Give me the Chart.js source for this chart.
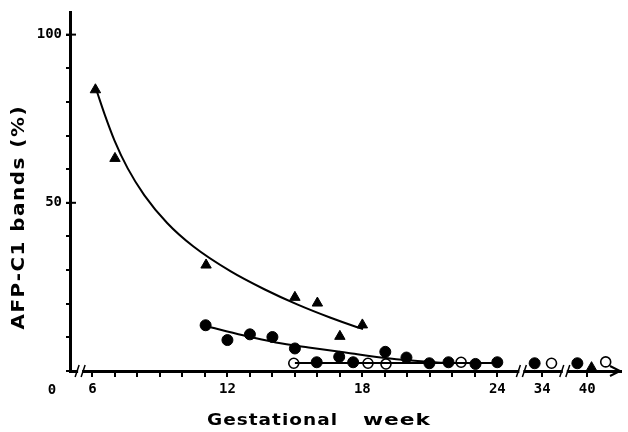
<!DOCTYPE html>
<html>
<head>
<meta charset="utf-8">
<script src="https://cdn.jsdelivr.net/npm/chart.js@4.4.0/dist/chart.umd.min.js"></script>
<style>
  body { margin: 0; background: #fff; }
  #wrap { width: 628px; height: 432px; }
</style>
</head>
<body>
<div id="wrap"><canvas id="chart" width="628" height="432"></canvas></div>
<script>
// broken x axis: weeks 5..24 sit at their own value, week 34 sits at 26 and week 40 at 28
const xTickPos = [6, 7, 8, 9, 10, 11, 12, 13, 14, 15, 16, 17, 18, 19, 20, 21, 22, 23, 24, 26, 28];
const xTickText = { 6: '6', 12: '12', 18: '18', 24: '24', 26: '34', 28: '40' };
const yTickVals = [0, 10, 20, 30, 40, 50, 60, 70, 80, 90, 100];
const yTickText = { 50: '50', 100: '100' };
const breakPos = [5.45, 25.07, 27.0];

const triWeek = [6.13, 7.0, 11.05, 15.0, 16.0, 17.0, 18.0, 28.19];
const triVal = [83.6, 63.2, 31.5, 21.9, 20.2, 10.3, 13.7, 1.0];

const filledWeek = [11.03, 12.0, 13.0, 14.0, 15.0, 15.97, 16.97, 17.59, 19.02, 19.96, 20.98, 21.83, 23.03, 24.0, 25.66, 27.56];
const filledVal = [13.6, 9.2, 10.9, 10.1, 6.7, 2.6, 4.2, 2.6, 5.7, 4.0, 2.3, 2.6, 2.1, 2.6, 2.3, 2.3];

const openWeek = [14.95, 18.25, 19.05, 22.39, 26.41, 28.82];
const openVal = [2.3, 2.3, 2.1, 2.6, 2.3, 2.7];

// fitted curves
const triFitWeek = [6.2, 6.54, 6.98, 7.56, 8.3, 9.32, 10.49, 12.15, 13.64, 15.1, 16.56, 17.74, 18.03];
const triFitVal = [83.0, 76.3, 68.5, 60.3, 52.3, 44.0, 37.0, 29.6, 24.3, 19.8, 15.9, 13.1, 12.5];

const filledFitWeek = [11.07, 12.69, 14.15, 15.61, 17.45, 19.14, 20.75, 21.6];
const filledFitVal = [13.3, 10.6, 8.5, 7.0, 5.3, 3.8, 2.8, 2.45];

const openFitWeek = [15.0, 24.0];
const openFitVal = [2.4, 2.4];

const pts = (xs, ys) => xs.map((x, i) => ({ x: x, y: ys[i] }));

const tickFont = { family: 'DejaVu Sans Mono', size: 14, weight: 'bold' };

// draws text with a fixed letter gap, stretched sideways to fill the given width
function drawWide(ctx, text, cx, cy, width, gap) {
    const chars = text.split('');
    const widths = chars.map(c => ctx.measureText(c).width);
    const natural = widths.reduce((a, b) => a + b, 0);
    const sx = (width - gap * (chars.length - 1)) / natural;
    let pos = cx - width / 2;
    ctx.textAlign = 'left';
    ctx.textBaseline = 'middle';
    chars.forEach((c, i) => {
        ctx.save();
        ctx.translate(pos, cy);
        ctx.scale(sx, 1);
        ctx.fillText(c, 0, 0);
        ctx.restore();
        pos += widths[i] * sx + gap;
    });
}

const decor = {
    id: 'decor',
    afterDraw(chart) {
        const { ctx, chartArea, scales } = chart;
        const x = scales.x, y = scales.y;
        const base = chartArea.bottom;
        ctx.save();
        ctx.strokeStyle = '#000';
        ctx.fillStyle = '#000';

        // major y ticks cross the axis
        ctx.lineWidth = 2;
        [50, 100].forEach(v => {
            const py = y.getPixelForValue(v);
            ctx.beginPath();
            ctx.moveTo(chartArea.left - 4, py);
            ctx.lineTo(chartArea.left + 6, py);
            ctx.stroke();
        });

        // axis breaks
        breakPos.forEach(b => {
            const px = x.getPixelForValue(b);
            ctx.fillStyle = '#fff';
            ctx.fillRect(px - 2, base - 3, 4, 6);
            ctx.fillStyle = '#000';
            ctx.lineWidth = 1.5;
            ctx.beginPath();
            ctx.moveTo(px - 5, base + 6);
            ctx.lineTo(px - 1, base - 6);
            ctx.moveTo(px + 1, base + 6);
            ctx.lineTo(px + 5, base - 6);
            ctx.stroke();
        });

        // arrow head
        ctx.lineWidth = 2;
        ctx.beginPath();
        ctx.moveTo(chartArea.right - 11, base - 5);
        ctx.lineTo(chartArea.right - 1, base);
        ctx.lineTo(chartArea.right - 11, base + 5);
        ctx.stroke();

        // origin label
        ctx.font = 'bold 14px "DejaVu Sans Mono"';
        ctx.textAlign = 'center';
        ctx.textBaseline = 'middle';
        ctx.fillText('0', 52, 390);

        // axis titles
        ctx.font = 'bold 16px "DejaVu Sans"';
        drawWide(ctx, 'Gestational', 272, 421, 130, 1);
        drawWide(ctx, 'week', 396.5, 421, 67, 1);

        ctx.save();
        ctx.translate(20, 218);
        ctx.rotate(-Math.PI / 2);
        ctx.font = 'bold 17px "DejaVu Sans"';
        drawWide(ctx, 'AFP-C1 bands (%)', 0, 0, 223, 1.5);
        ctx.restore();

        ctx.restore();
    }
};

new Chart(document.getElementById('chart'), {
    type: 'scatter',
    data: {
        datasets: [
            {
                data: pts(triFitWeek, triFitVal),
                showLine: true, pointRadius: 0, borderColor: '#000', borderWidth: 2,
                cubicInterpolationMode: 'monotone'
            },
            {
                data: pts(filledFitWeek, filledFitVal),
                showLine: true, pointRadius: 0, borderColor: '#000', borderWidth: 2,
                cubicInterpolationMode: 'monotone'
            },
            {
                data: pts(openFitWeek, openFitVal),
                showLine: true, pointRadius: 0, borderColor: '#000', borderWidth: 2
            },
            {
                data: pts(triWeek, triVal),
                pointStyle: 'triangle', pointRadius: 6,
                backgroundColor: '#000', borderColor: '#000', borderWidth: 1
            },
            {
                data: pts(filledWeek, filledVal),
                pointStyle: 'circle', pointRadius: 5.5,
                backgroundColor: '#000', borderColor: '#000', borderWidth: 1
            },
            {
                data: pts(openWeek, openVal),
                pointStyle: 'circle', pointRadius: 5,
                backgroundColor: 'rgba(0,0,0,0)', borderColor: '#000', borderWidth: 1.6
            }
        ]
    },
    options: {
        responsive: false,
        animation: false,
        devicePixelRatio: 1,
        layout: { padding: { top: 10, right: 0, left: 0, bottom: 0 } },
        plugins: { legend: { display: false }, tooltip: { enabled: false } },
        elements: { line: { fill: false } },
        datasets: { scatter: { clip: false } },
        scales: {
            x: {
                type: 'linear',
                min: 5,
                max: 29.5,
                afterBuildTicks: scale => { scale.ticks = xTickPos.map(v => ({ value: v })); },
                afterFit: scale => { scale.height = 61; },
                ticks: {
                    autoSkip: false,
                    maxRotation: 0,
                    color: '#000',
                    font: tickFont,
                    padding: 4,
                    callback: v => xTickText[v] || ''
                },
                grid: { drawOnChartArea: false, drawTicks: true, tickLength: 6, color: '#000', lineWidth: 2 },
                border: { display: true, color: '#000', width: 3 }
            },
            y: {
                min: 0,
                max: 106.6,
                afterBuildTicks: scale => { scale.ticks = yTickVals.map(v => ({ value: v })); },
                afterFit: scale => { scale.width = 70; },
                ticks: {
                    color: '#000',
                    font: tickFont,
                    padding: 4,
                    callback: v => yTickText[v] || ''
                },
                grid: { drawOnChartArea: false, drawTicks: true, tickLength: 4, color: '#000', lineWidth: 2 },
                border: { display: true, color: '#000', width: 3 }
            }
        }
    },
    plugins: [decor]
});
</script>
</body>
</html>
